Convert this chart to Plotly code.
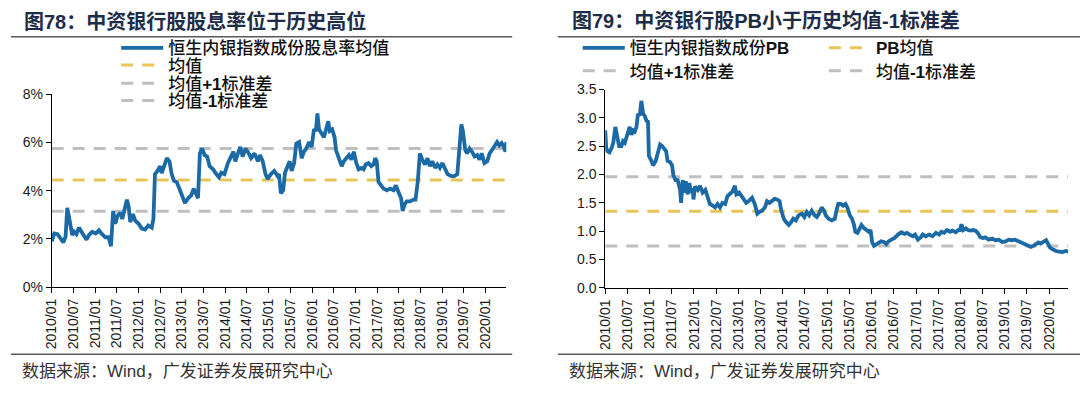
import plotly.graph_objects as go

# ---------------- data ----------------
dy_dates = ['2010-01-01','2010-01-23','2010-02-19','2010-03-17','2010-04-09','2010-04-28','2010-05-12','2010-05-25','2010-06-10','2010-06-23',
 '2010-07-07','2010-07-28','2010-08-18','2010-09-08','2010-09-28','2010-10-21','2010-11-10','2010-12-08','2011-01-06','2011-02-03',
 '2011-03-01','2011-03-29','2011-04-25','2011-05-15','2011-06-02','2011-06-20','2011-07-10','2011-08-02','2011-08-18','2011-09-05',
 '2011-09-26','2011-10-10','2011-10-24','2011-11-16','2011-12-05','2012-01-03','2012-01-29','2012-02-26','2012-03-24','2012-04-22',
 '2012-05-06','2012-05-19','2012-06-09','2012-07-01','2012-07-15','2012-08-04','2012-08-27','2012-09-18','2012-10-07','2012-10-25',
 '2012-11-18','2012-12-10','2012-12-28','2013-01-26','2013-02-23','2013-03-21','2013-04-10','2013-05-03','2013-05-16','2013-06-01',
 '2013-06-19','2013-07-11','2013-08-01','2013-08-22','2013-09-20','2013-10-17','2013-11-09','2013-11-28','2013-12-25','2014-01-23',
 '2014-02-20','2014-03-10','2014-03-26','2014-04-16','2014-05-06','2014-05-27','2014-06-19','2014-07-09','2014-08-06','2014-09-04',
 '2014-10-02','2014-10-20','2014-11-12','2014-12-05','2014-12-23','2015-01-20','2015-02-17','2015-03-16','2015-03-29','2015-04-13',
 '2015-05-03','2015-05-18','2015-06-08','2015-06-26','2015-07-13','2015-08-03','2015-08-21','2015-09-14','2015-10-06','2015-10-24',
 '2015-11-14','2015-12-07','2015-12-28','2016-01-17','2016-02-02','2016-02-15','2016-02-28','2016-03-20','2016-04-10','2016-04-28',
 '2016-05-16','2016-05-29','2016-06-18','2016-07-08','2016-07-21','2016-08-13','2016-09-06','2016-09-24','2016-10-14','2016-11-06',
 '2016-11-27','2016-12-17','2017-01-07','2017-01-27','2017-02-19','2017-03-10','2017-03-28','2017-04-20','2017-05-13','2017-06-02',
 '2017-06-15','2017-06-28','2017-07-13','2017-08-06','2017-08-24','2017-09-21','2017-10-19','2017-11-16','2017-12-06','2017-12-27',
 '2018-01-19','2018-02-01','2018-02-17','2018-03-07','2018-04-05','2018-05-02','2018-05-20','2018-06-08','2018-06-26','2018-07-16',
 '2018-08-08','2018-08-29','2018-09-18','2018-10-08','2018-11-01','2018-11-21','2018-12-11','2019-01-01','2019-01-22','2019-02-14',
 '2019-03-12','2019-04-09','2019-05-07','2019-05-25','2019-06-10','2019-06-23','2019-07-13','2019-07-28','2019-08-18','2019-09-08',
 '2019-09-29','2019-10-21','2019-11-10','2019-11-28','2019-12-21','2020-01-14','2020-02-03','2020-02-21','2020-03-14','2020-04-06',
 '2020-04-24','2020-05-14','2020-06-01','2020-06-15','2020-06-23']
dy_values = [1.90,2.23,2.20,2.03,1.86,2.10,3.29,2.96,2.36,2.16,
 2.30,2.20,2.47,2.30,2.16,1.97,2.16,2.30,2.23,2.36,
 2.20,2.07,2.07,1.70,3.16,2.63,2.96,3.09,2.83,3.23,
 3.63,3.36,2.70,3.03,2.76,2.63,2.43,2.39,2.56,2.47,
 2.83,4.69,4.82,5.02,4.73,5.02,5.35,5.22,4.69,4.42,
 4.36,4.09,3.89,3.49,3.69,3.82,4.09,3.82,3.69,5.55,
 5.75,5.48,5.42,5.02,4.89,4.69,4.56,4.75,4.69,5.15,
 5.42,5.62,5.22,5.55,5.82,5.42,5.75,5.62,5.35,5.55,
 5.22,5.48,5.22,4.69,4.49,4.69,4.82,4.62,4.69,3.89,
 4.02,4.75,5.02,5.22,4.82,5.15,5.95,6.02,5.35,5.62,
 5.75,6.02,5.82,6.55,6.48,7.21,6.55,6.41,6.22,6.55,
 6.88,6.48,6.55,6.22,5.68,5.35,5.02,5.22,5.35,5.48,
 5.29,5.62,5.15,4.89,4.95,4.89,5.09,5.15,5.02,5.09,
 5.35,5.22,4.36,4.22,4.09,4.02,4.09,4.02,4.22,3.96,
 3.69,3.16,3.43,3.56,3.56,3.63,3.63,4.36,5.55,5.29,
 5.09,5.35,5.02,5.22,4.95,5.09,4.95,5.15,4.89,4.69,
 4.62,4.60,4.69,6.02,6.75,6.48,5.68,5.55,5.75,5.62,
 5.42,5.48,5.29,5.55,5.15,5.22,5.55,5.68,5.88,6.02,
 5.88,5.98,5.82,5.62,6.02]
dy_mean, dy_upper, dy_lower = 4.45, 5.75, 3.15

pb_dates = ['2010-01-01','2010-01-09','2010-01-19','2010-02-05','2010-02-23','2010-03-08','2010-03-25','2010-04-10','2010-04-25','2010-05-14',
 '2010-05-27','2010-06-11','2010-06-29','2010-07-21','2010-08-05','2010-08-18','2010-09-02','2010-09-15','2010-09-27','2010-10-12',
 '2010-10-25','2010-11-09','2010-11-21','2010-12-06','2010-12-19','2010-12-26','2011-01-16','2011-01-29','2011-02-20','2011-03-10',
 '2011-03-28','2011-04-14','2011-05-04','2011-05-17','2011-05-29','2011-06-18','2011-07-05','2011-07-15','2011-08-02','2011-08-20',
 '2011-09-09','2011-09-17','2011-10-01','2011-10-14','2011-10-26','2011-11-11','2011-11-24','2011-12-08','2011-12-20','2011-12-28',
 '2012-01-10','2012-02-02','2012-02-20','2012-03-12','2012-04-04','2012-04-22','2012-05-11','2012-06-03','2012-06-23','2012-07-13',
 '2012-08-02','2012-08-22','2012-09-14','2012-10-03','2012-10-21','2012-11-13','2012-12-03','2012-12-15','2013-01-07','2013-01-27',
 '2013-02-17','2013-03-06','2013-03-26','2013-04-23','2013-05-15','2013-06-05','2013-06-22','2013-07-14','2013-08-07','2013-08-24',
 '2013-09-13','2013-10-06','2013-10-26','2013-11-15','2013-12-05','2013-12-20','2014-01-09','2014-01-27','2014-02-19','2014-03-11',
 '2014-03-28','2014-04-18','2014-05-10','2014-06-07','2014-06-27','2014-07-17','2014-08-06','2014-08-27','2014-09-19','2014-10-08',
 '2014-10-26','2014-11-17','2014-12-07','2014-12-20','2015-01-12','2015-02-08','2015-03-05','2015-03-18','2015-04-02','2015-04-22',
 '2015-05-12','2015-06-01','2015-06-16','2015-07-06','2015-07-24','2015-08-10','2015-08-20','2015-09-08','2015-09-25','2015-10-10',
 '2015-11-02','2015-11-20','2015-12-09','2015-12-24','2016-01-06','2016-01-21','2016-02-10','2016-02-28','2016-03-20','2016-04-12',
 '2016-05-01','2016-05-19','2016-06-11','2016-07-08','2016-08-05','2016-09-02','2016-09-28','2016-10-19','2016-11-09','2016-12-06',
 '2016-12-24','2017-01-16','2017-02-08','2017-02-25','2017-03-22','2017-04-19','2017-05-16','2017-06-14','2017-07-10','2017-07-28',
 '2017-08-20','2017-09-12','2017-10-09','2017-10-27','2017-11-24','2017-12-13','2017-12-28','2018-01-10','2018-01-25','2018-02-15',
 '2018-03-04','2018-03-24','2018-04-16','2018-05-06','2018-05-23','2018-06-15','2018-07-08','2018-07-25','2018-08-22','2018-09-19',
 '2018-10-16','2018-11-13','2018-12-10','2019-01-07','2019-02-04','2019-03-01','2019-03-26','2019-04-24','2019-05-20','2019-06-10',
 '2019-07-07','2019-08-04','2019-08-24','2019-09-16','2019-10-05','2019-10-23','2019-11-15','2019-12-07','2019-12-25','2020-01-09',
 '2020-02-01','2020-02-26','2020-03-24','2020-04-20','2020-05-17','2020-06-07']
pb_values = [2.78,2.47,2.41,2.39,2.47,2.56,2.84,2.61,2.50,2.50,
 2.59,2.56,2.70,2.84,2.70,2.78,2.76,2.84,3.07,3.04,
 3.30,3.07,3.04,2.95,2.93,2.33,2.24,2.16,2.24,2.39,
 2.53,2.50,2.44,2.41,2.24,2.22,2.16,1.99,1.90,1.90,
 1.73,1.50,1.90,1.68,1.88,1.65,1.85,1.68,1.76,1.56,
 1.79,1.73,1.80,1.68,1.73,1.62,1.48,1.45,1.42,1.48,
 1.42,1.50,1.48,1.62,1.65,1.70,1.80,1.65,1.68,1.62,
 1.56,1.50,1.53,1.59,1.48,1.31,1.34,1.36,1.42,1.53,
 1.50,1.53,1.57,1.56,1.53,1.36,1.22,1.16,1.11,1.16,
 1.22,1.19,1.28,1.31,1.25,1.34,1.28,1.36,1.28,1.25,
 1.31,1.42,1.36,1.28,1.22,1.19,1.22,1.36,1.48,1.48,
 1.45,1.48,1.42,1.28,1.22,1.11,0.99,0.97,1.05,1.11,
 1.05,1.02,0.99,1.02,0.80,0.74,0.77,0.80,0.82,0.81,
 0.77,0.82,0.85,0.88,0.94,0.98,0.95,0.97,0.94,0.91,
 0.94,0.85,0.89,0.94,0.91,0.94,0.91,0.97,0.94,0.99,
 0.97,1.02,0.99,1.01,0.98,1.02,1.02,1.12,1.02,1.05,
 1.02,1.01,1.02,1.01,0.97,0.89,0.88,0.89,0.85,0.87,
 0.84,0.85,0.81,0.82,0.85,0.84,0.85,0.82,0.80,0.77,
 0.74,0.72,0.74,0.77,0.80,0.78,0.81,0.84,0.77,0.71,
 0.68,0.65,0.64,0.63,0.65,0.64]
pb_mean, pb_upper, pb_lower = 1.35, 1.96, 0.74

tick_dates = ['2010-01-01','2010-07-01','2011-01-01','2011-07-01','2012-01-01','2012-07-01','2013-01-01',
              '2013-07-01','2014-01-01','2014-07-01','2015-01-01','2015-07-01','2016-01-01','2016-07-01',
              '2017-01-01','2017-07-01','2018-01-01','2018-07-01','2019-01-01','2019-07-01','2020-01-01']
tick_labels = ['2010/01','2010/07','2011/01','2011/07','2012/01','2012/07','2013/01',
               '2013/07','2014/01','2014/07','2015/01','2015/07','2016/01','2016/07',
               '2017/01','2017/07','2018/01','2018/07','2019/01','2019/07','2020/01']
dy_ticks = [0, 2, 4, 6, 8]
dy_tick_labels = ['0%', '2%', '4%', '6%', '8%']
pb_ticks = [0.0, 0.5, 1.0, 1.5, 2.0, 2.5, 3.0, 3.5]
pb_tick_labels = ['0.0', '0.5', '1.0', '1.5', '2.0', '2.5', '3.0', '3.5']

# ---------------- styling ----------------
W, H = 1080, 393
BLUE = '#1b6aa6'
GOLD = '#e8c557'
GRAY = '#bfbfbf'
FONT = 'Liberation Sans, Arial, Noto Sans CJK SC'
CJK = 'Liberation Sans, Noto Sans CJK SC'

def px(x):
    return x / W

def py(y):
    return 1 - y / H

fig = go.Figure()

def add_series(xs, ys, name, color, dash, width, xa, ya, legend):
    fig.add_trace(go.Scatter(x=xs, y=ys, name=name, mode='lines',
                             line=dict(color=color, width=width, dash=dash),
                             xaxis=xa, yaxis=ya, legend=legend, hoverinfo='skip'))

DASH = '12px,9px'
# left chart: reference lines first, series on top
span_l = [dy_dates[0], dy_dates[-1]]
add_series(span_l, [dy_mean, dy_mean], '均值', GOLD, DASH, 3, 'x', 'y', 'legend2')
add_series(span_l, [dy_upper, dy_upper], '均值<b>+1</b>标准差', GRAY, DASH, 3, 'x', 'y', 'legend3')
add_series(span_l, [dy_lower, dy_lower], '均值<b>-1</b>标准差', GRAY, DASH, 3, 'x', 'y', 'legend4')
add_series(dy_dates, dy_values, '恒生内银指数成份股息率均值', BLUE, 'solid', 3.8, 'x', 'y', 'legend')
# right chart
span_r = [pb_dates[0], pb_dates[-1]]
add_series(span_r, [pb_mean, pb_mean], '<b>PB</b>均值', GOLD, DASH, 3, 'x2', 'y2', 'legend6')
add_series(span_r, [pb_upper, pb_upper], '均值<b>+1</b>标准差', GRAY, DASH, 3, 'x2', 'y2', 'legend7')
add_series(span_r, [pb_lower, pb_lower], '均值<b>-1</b>标准差', GRAY, DASH, 3, 'x2', 'y2', 'legend8')
add_series(pb_dates, pb_values, '恒生内银指数成份<b>PB</b>', BLUE, 'solid', 3.8, 'x2', 'y2', 'legend5')

axis_common = dict(showgrid=False, zeroline=False, showline=True, linecolor='#000000', linewidth=1,
                   ticks='outside', ticklen=5, tickcolor='#000000', tickwidth=1,
                   tickfont=dict(family=FONT, size=14, color='#1a1a1a'), fixedrange=True)

fig.update_layout(
    width=W, height=H, autosize=False,
    margin=dict(l=0, r=0, t=0, b=0),
    paper_bgcolor='white', plot_bgcolor='white',
    font=dict(family=CJK, color='#1a1a1a'),
    xaxis=dict(domain=[px(44), px(502)], range=['2010-01-01', '2020-06-22'], type='date',
               tickmode='array', tickvals=tick_dates, ticktext=tick_labels, tickangle=-90,
               anchor='y', **axis_common),
    yaxis=dict(domain=[py(291), py(90)], range=[0, 8], tickmode='array', tickvals=dy_ticks,
               ticktext=dy_tick_labels, anchor='x', **axis_common),
    xaxis2=dict(domain=[px(601.7), px(1068)], range=['2010-01-01', '2020-06-05'], type='date',
                tickmode='array', tickvals=tick_dates, ticktext=tick_labels, tickangle=-90,
                anchor='y2', **axis_common),
    yaxis2=dict(domain=[py(291.7), py(85)], range=[0, 3.5], tickmode='array', tickvals=pb_ticks,
                ticktext=pb_tick_labels, anchor='x2', **axis_common),
    showlegend=True,
)

def leg(x_line, y_row):
    return dict(x=px(x_line - 8), y=py(y_row - 3), xanchor='left', yanchor='middle',
                bgcolor='rgba(0,0,0,0)', borderwidth=0, itemwidth=42,
                font=dict(family=CJK, size=17, color='#111111', weight=500),
                itemclick=False, itemdoubleclick=False)

fig.update_layout(
    legend=leg(117, 45), legend2=leg(117, 63), legend3=leg(117, 82), legend4=leg(117, 100),
    legend5=leg(582, 45), legend6=leg(830, 45), legend7=leg(582, 69), legend8=leg(830, 69),
)

# titles, rules, sources
def text(x, y, s, size, color, bold=False):
    fig.add_annotation(x=px(x), y=py(y), xref='paper', yref='paper', xanchor='left', yanchor='middle',
                       text=('<b>%s</b>' % s) if bold else s, showarrow=False,
                       font=dict(family=CJK, size=size, color=color))

text(14, 14, '图78：中资银行股股息率位于历史高位', 20, '#1e2c48', bold=True)
text(566, 14, '图79：中资银行股PB小于历史均值-1标准差', 20, '#1e2c48', bold=True)
text(12, 379, '数据来源：Wind，广发证券发展研究中心', 17, '#333333')
text(563, 379, '数据来源：Wind，广发证券发展研究中心', 17, '#333333')

for x0, x1 in [(3, 508), (554, 1080)]:
    for yy in (30, 361):
        fig.add_shape(type='line', xref='paper', yref='paper', x0=px(x0), x1=px(x1), y0=py(yy), y1=py(yy),
                      line=dict(color='#595959', width=1.5))

fig.write_html("out.html", config={'displayModeBar': False},
               post_script="document.body.style.margin='0';document.body.style.overflow='hidden';")
